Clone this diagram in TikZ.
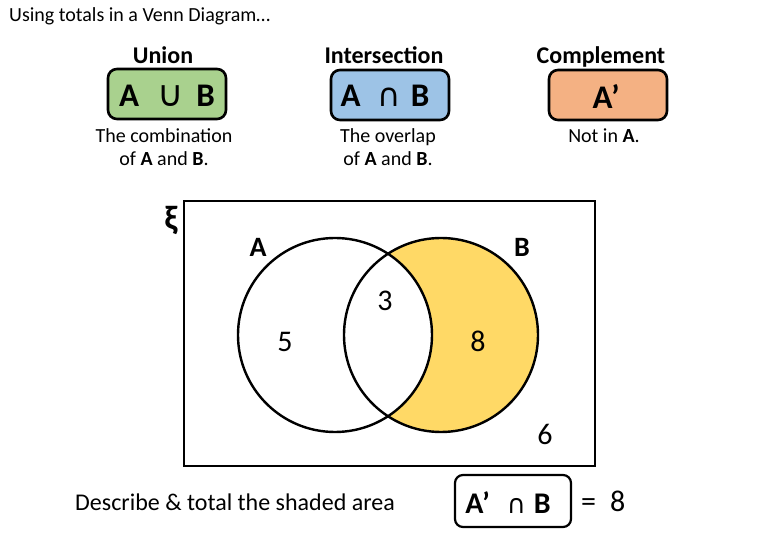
\documentclass[tikz,border=0pt]{standalone}
\usepackage{fontspec}
\setmainfont{Carlito}
\newfontfamily\symfont{DejaVu Sans}
\definecolor{ugreen}{HTML}{A9D18E}
\definecolor{iblue}{HTML}{9DC3E6}
\definecolor{corange}{HTML}{F4B183}
\definecolor{shadeyel}{HTML}{FFD966}
\newcommand{\fsz}[1]{\fontsize{#1}{#1}\selectfont}
\begin{document}
\begin{tikzpicture}[x=1pt,y=-1pt,
  opbox/.style={draw=black,line width=2.6pt,rounded corners=9pt,minimum width=118pt,minimum height=50pt,inner sep=0pt},
  optext/.style={font=\fsz{33}\bfseries},
  head/.style={font=\fsz{24}\bfseries,anchor=base},
  desc/.style={font=\fontsize{20}{23}\selectfont,align=center,anchor=north},
  num/.style={font=\fsz{30},anchor=base},
  setlbl/.style={font=\fsz{28}\bfseries,anchor=base},
  ring/.style={line width=2.4pt}]
\useasboundingbox (0,0) rectangle (780,540);
\node[font=\fsz{20},anchor=base west,inner sep=0pt] (title) at (9,22) {Using totals in a Venn Diagram…};
% union
\node[head] (uh) at (163,64) {Union};
\node[opbox,fill=ugreen] (ub) at (167,94) {};
\node[optext] (ut) at (167,96) {A\hspace{18pt}{\symfont\mdseries\fsz{36}∪}\hspace{13pt}B};
\node[desc] (ud) at (164,125) {The combination\\of \textbf{A} and \textbf{B}.};
% intersection
\node[head] (ih) at (384,64) {Intersection};
\node[opbox,fill=iblue] (ib) at (390,95) {};
\node[optext] (it) at (385,96) {A\hspace{17pt}{\symfont\mdseries\fsz{32}∩}\hspace{10pt}B};
\node[desc] (id) at (388,125) {The overlap\\of \textbf{A} and \textbf{B}.};
% complement
\node[head] (ch) at (601,64) {Complement};
\node[opbox,fill=corange] (cb) at (608,95) {};
\node[optext] (ct) at (606,96) {A’};
\node[desc] (cd) at (604,125) {Not in \textbf{A}.};
% venn
\draw[line width=2.8pt] (184,201) rectangle (595,466);
\node[font=\fsz{34}\bfseries,inner sep=0pt] (xi) at (171,220) {ξ};
\coordinate (ca) at (335,335);
\coordinate (cbb) at (441,335);
\begin{scope}
  \clip (cbb) circle (97);
  \fill[shadeyel] (cbb) circle (97);
  \fill[white] (ca) circle (97);
\end{scope}
\draw[ring] (ca) circle (97);
\draw[ring] (cbb) circle (97);
\node[setlbl] (la) at (258,257) {A};
\node[setlbl] (lb) at (522,257) {B};
\node[num] (n3) at (385,311) {3};
\node[num] (n5) at (285,352) {5};
\node[num] (n8) at (478,352) {8};
\node[num] (n6) at (545,444) {6};
% bottom
\node[font=\fsz{24},anchor=base west,inner sep=0pt] (q) at (75,510) {Describe \& total the shaded area};
\node[draw=black,line width=2.2pt,rounded corners=8pt,minimum width=116pt,minimum height=52pt,inner sep=0pt] (ab) at (513,501) {};
\node[optext,font=\fsz{30}\bfseries] (at) at (508,503) {A’\hspace{17pt}{\symfont\mdseries\fsz{26}∩}\hspace{8pt}B};
\node[font=\fsz{30},anchor=base west,inner sep=0pt] (eq) at (581,511) {=\hspace{14pt}8};
\end{tikzpicture}
\end{document}
